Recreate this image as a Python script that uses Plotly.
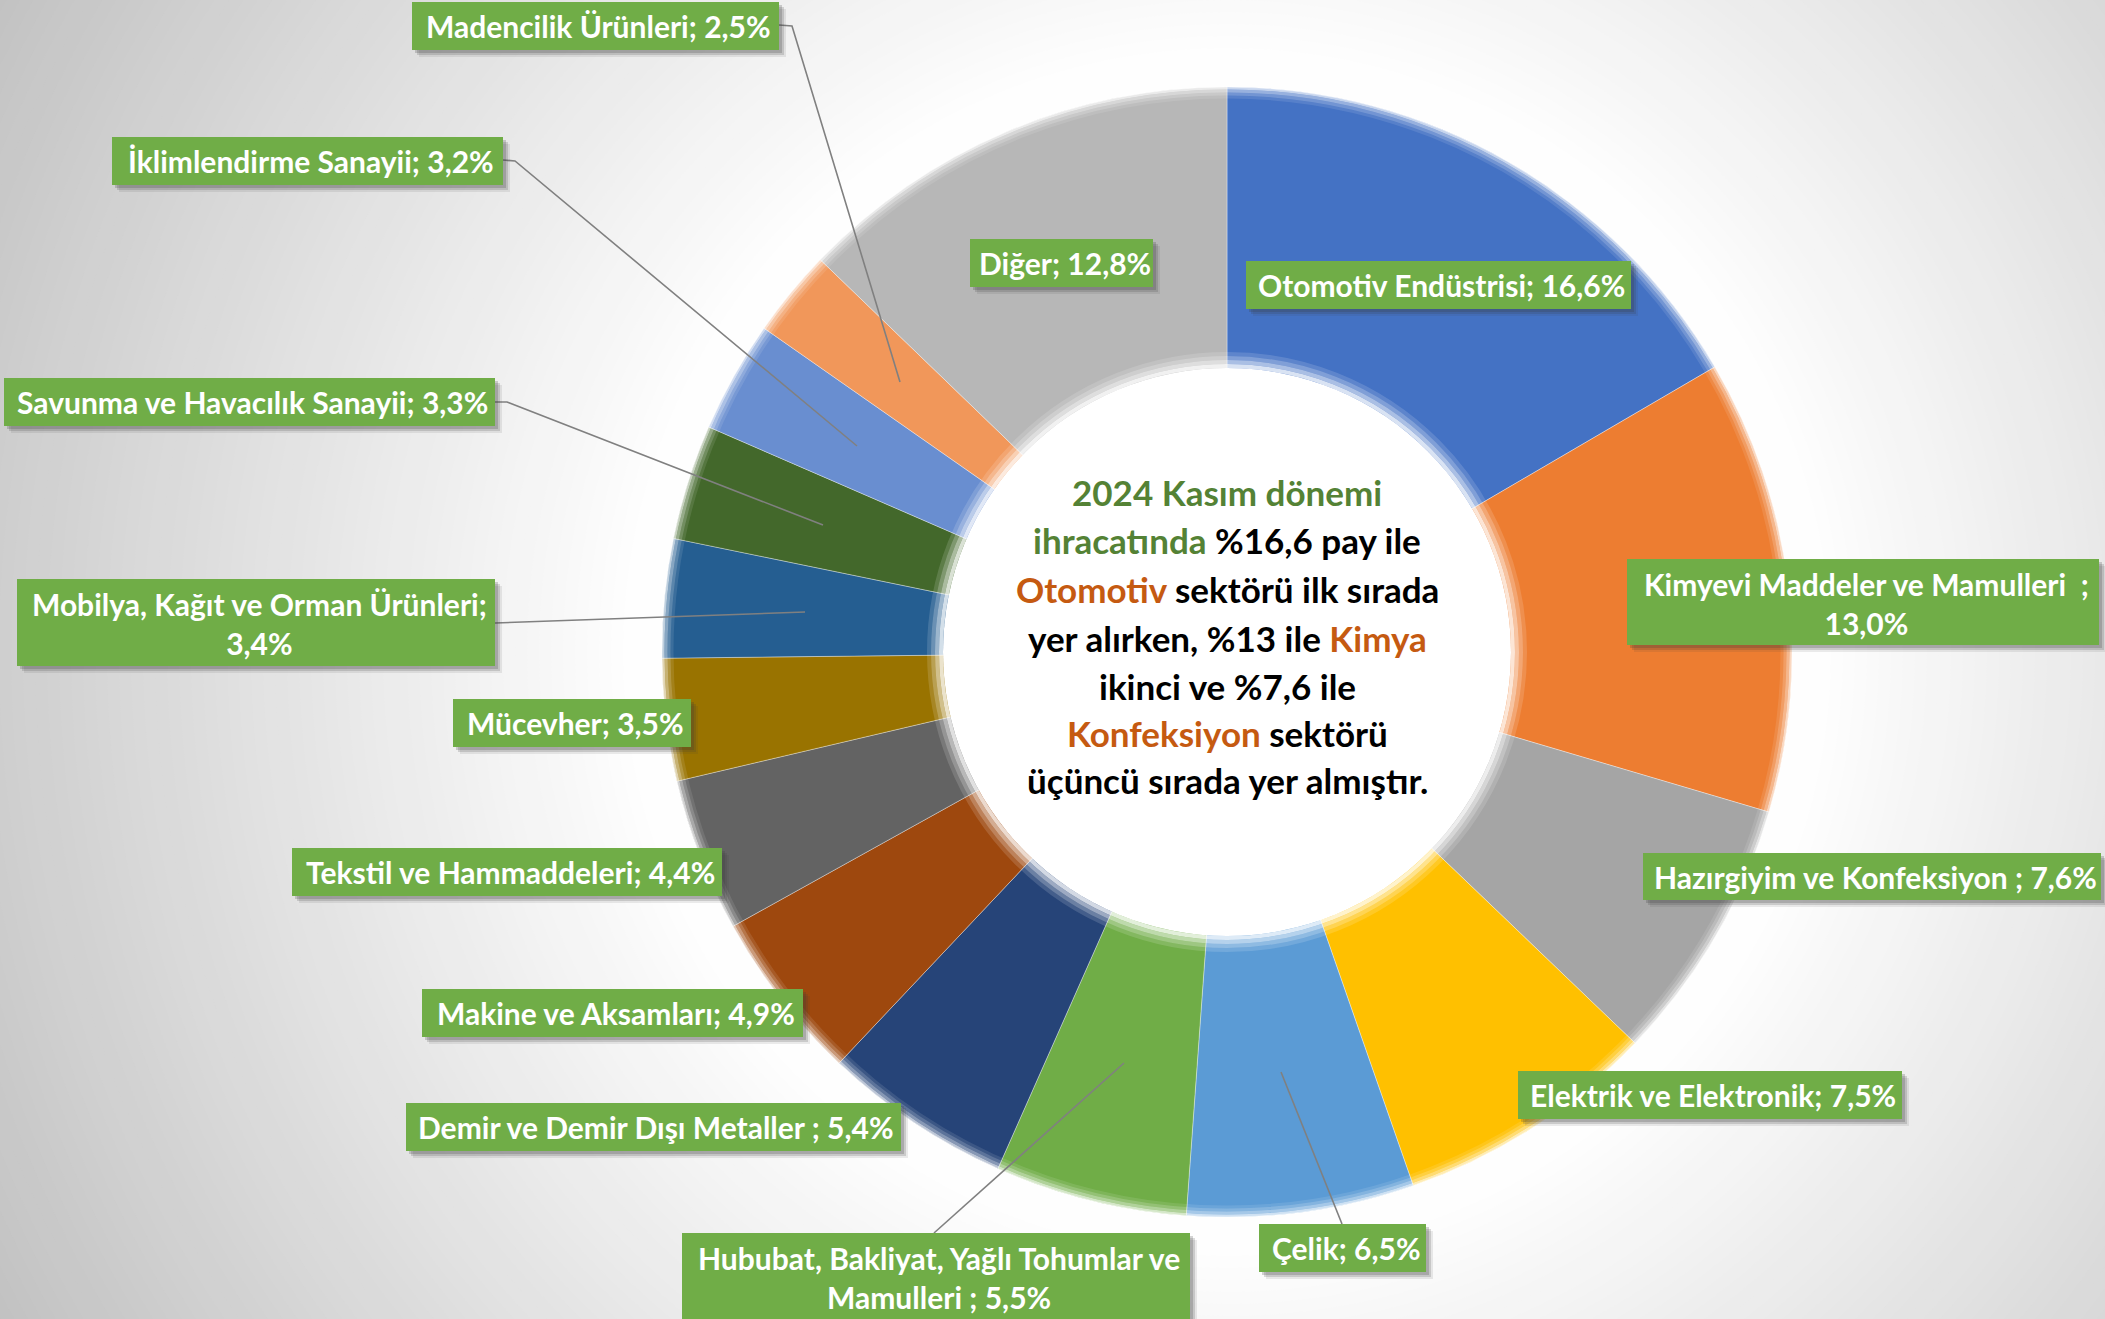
import plotly.graph_objects as go

# ---------------- data ----------------
sectors = [
    "Otomotiv Endüstrisi", "Kimyevi Maddeler ve Mamulleri", "Hazırgiyim ve Konfeksiyon",
    "Elektrik ve Elektronik", "Çelik", "Hububat, Bakliyat, Yağlı Tohumlar ve Mamulleri",
    "Demir ve Demir Dışı Metaller", "Makine ve Aksamları", "Tekstil ve Hammaddeleri",
    "Mücevher", "Mobilya, Kağıt ve Orman Ürünleri", "Savunma ve Havacılık Sanayii",
    "İklimlendirme Sanayii", "Madencilik Ürünleri", "Diğer",
]
shares = [16.6, 13.0, 7.6, 7.5, 6.5, 5.5, 5.4, 4.9, 4.4, 3.5, 3.4, 3.3, 3.2, 2.5, 12.8]
slice_colors = [
    "#4472C4", "#ED7D31", "#A5A5A5", "#FFC000", "#5B9BD5", "#70AD47", "#264478",
    "#9E480E", "#636363", "#997300", "#255E91", "#43682B", "#698ED0", "#F1975A", "#B7B7B7",
]
label_texts = [
    "Otomotiv Endüstrisi; 16,6%",
    "Kimyevi Maddeler ve Mamulleri  ;<br>13,0%",
    "Hazırgiyim ve Konfeksiyon ; 7,6%",
    "Elektrik ve Elektronik; 7,5%",
    "Çelik; 6,5%",
    "Hububat, Bakliyat, Yağlı Tohumlar ve<br>Mamulleri ; 5,5%",
    "Demir ve Demir Dışı Metaller ; 5,4%",
    "Makine ve Aksamları; 4,9%",
    "Tekstil ve Hammaddeleri; 4,4%",
    "Mücevher; 3,5%",
    "Mobilya, Kağıt ve Orman Ürünleri;<br>3,4%",
    "Savunma ve Havacılık Sanayii; 3,3%",
    "İklimlendirme Sanayii; 3,2%",
    "Madencilik Ürünleri; 2,5%",
    "Diğer; 12,8%",
]
GREEN_T = "#548235"
ORANGE_T = "#C55A11"
center_lines = [
    f'<span style="color:{GREEN_T}">2024 Kasım dönemi</span>',
    f'<span style="color:{GREEN_T}">ihracatında</span> %16,6 pay ile',
    f'<span style="color:{ORANGE_T}">Otomotiv</span> sektörü ilk sırada',
    f'yer alırken, %13 ile <span style="color:{ORANGE_T}">Kimya</span>',
    'ikinci ve %7,6 ile',
    f'<span style="color:{ORANGE_T}">Konfeksiyon</span> sektörü',
    'üçüncü sırada yer almıştır.',
]

# ---------------- layout geometry (pixels) ----------------
W, H = 2105, 1319
CX, CY, R = 1227, 652, 565
R_IN = 282


def px(x):
    return x / W


def py(y):
    return 1 - y / H


# label boxes: x0, y0, x1, y1 (pixels from top-left)
label_boxes = [
    (1246, 261, 1631, 309),
    (1627, 559, 2099, 645),
    (1643, 853, 2101, 900),
    (1518, 1071, 1902, 1119),
    (1259, 1224, 1426, 1272),
    (682, 1233, 1190, 1324),
    (406, 1103, 901, 1151),
    (422, 989, 803, 1037),
    (292, 848, 722, 896),
    (453, 699, 691, 747),
    (17, 579, 495, 666),
    (4, 378, 495, 426),
    (112, 137, 503, 185),
    (412, 2, 779, 50),
    (970, 239, 1153, 287),
]
leaders = [
    [(779, 25), (792, 26), (900, 382)],
    [(503, 160), (515, 161), (857, 446)],
    [(495, 402), (507, 402), (823, 525)],
    [(495, 623), (805, 612)],
    [(934, 1233), (1124, 1063)],
    [(1342, 1224), (1281, 1072)],
]

fig = go.Figure()
fig.add_trace(go.Pie(
    labels=sectors,
    values=shares,
    marker=dict(colors=slice_colors, line=dict(color="rgba(255,255,255,0.35)", width=1)),
    sort=False,
    direction="clockwise",
    rotation=0,
    hole=R_IN / R,
    textinfo="none",
    hoverinfo="label+percent",
    showlegend=False,
    domain=dict(x=[px(CX - R), px(CX + R)], y=[py(CY + R), py(CY - R)]),
))

shapes = []


def circle(r, **kw):
    return dict(type="circle", xref="paper", yref="paper",
                x0=px(CX - r), x1=px(CX + r), y0=py(CY + r), y1=py(CY - r), **kw)


def bg_val(r):
    if r <= 585:
        return 255
    return max(188, 255 - 0.075 * (r - 585))


# radial background gradient
r = 1420
while r >= 585:
    v = int(round(bg_val(r)))
    shapes.append(circle(r, fillcolor=f"rgb({v},{v},{v})", line=dict(width=0), layer="below"))
    r -= 12

# soft edge on outer rim
for rr, a in [(564, 0.7), (561, 0.45), (558, 0.25), (555, 0.1)]:
    shapes.append(circle(rr, fillcolor="rgba(0,0,0,0)", line=dict(color=f"rgba(255,255,255,{a})", width=3), layer="above"))
# white hole + soft inner edge
shapes.append(circle(R_IN + 2, fillcolor="white", line=dict(width=0), layer="above"))
for rr, a in [(286, 0.8), (290, 0.55), (294, 0.32), (298, 0.14)]:
    shapes.append(circle(rr, fillcolor="rgba(0,0,0,0)", line=dict(color=f"rgba(255,255,255,{a})", width=4), layer="above"))

# leader lines
for pts in leaders:
    path = "M " + " L ".join(f"{px(x):.6f},{py(y):.6f}" for x, y in pts)
    shapes.append(dict(type="path", xref="paper", yref="paper", path=path,
                       line=dict(color="#808080", width=1.6), layer="above"))

# label boxes with shadows
for (x0, y0, x1, y1) in label_boxes:
    for off, a in [(7, 0.10), (5, 0.18), (3, 0.22)]:
        shapes.append(dict(type="rect", xref="paper", yref="paper",
                           x0=px(x0 + off), x1=px(x1 + off), y0=py(y1 + off), y1=py(y0 + off),
                           fillcolor=f"rgba(60,60,60,{a})", line=dict(width=0), layer="above"))
    shapes.append(dict(type="rect", xref="paper", yref="paper",
                       x0=px(x0), x1=px(x1), y0=py(y1), y1=py(y0),
                       fillcolor="#70AD47", line=dict(width=0), layer="above"))

annotations = []
LF = 30
for txt, (x0, y0, x1, y1) in zip(label_texts, label_boxes):
    ymid = (y0 + y1) / 2
    if (y1 - y0) > 60:
        ymid = y0 + 44
    annotations.append(dict(
        x=px((x0 + x1) / 2 + 3), y=py(ymid), xref="paper", yref="paper",
        text=txt, showarrow=False, xanchor="center", yanchor="middle",
        font=dict(family="Lato", size=LF, color="white", weight="bold"),
    ))

CF = 35
baselines = [505, 553, 602, 651, 699, 746, 793]
for line, b in zip(center_lines, baselines):
    annotations.append(dict(
        x=px(CX), y=py(b - 0.36 * CF), xref="paper", yref="paper",
        text=line, showarrow=False, xanchor="center", yanchor="middle",
        font=dict(family="Lato", size=CF, color="#000000", weight="bold"),
    ))

fig.update_layout(
    width=W, height=H,
    margin=dict(l=0, r=0, t=0, b=0),
    paper_bgcolor=f"rgb({int(bg_val(1420))},{int(bg_val(1420))},{int(bg_val(1420))})",
    plot_bgcolor="rgba(0,0,0,0)",
    shapes=shapes,
    annotations=annotations,
    font=dict(family="Lato"),
)

fig.write_html(
    "out.html",
    config={"displayModeBar": False},
    post_script="document.body.style.margin='0';document.body.style.overflow='hidden';",
)
